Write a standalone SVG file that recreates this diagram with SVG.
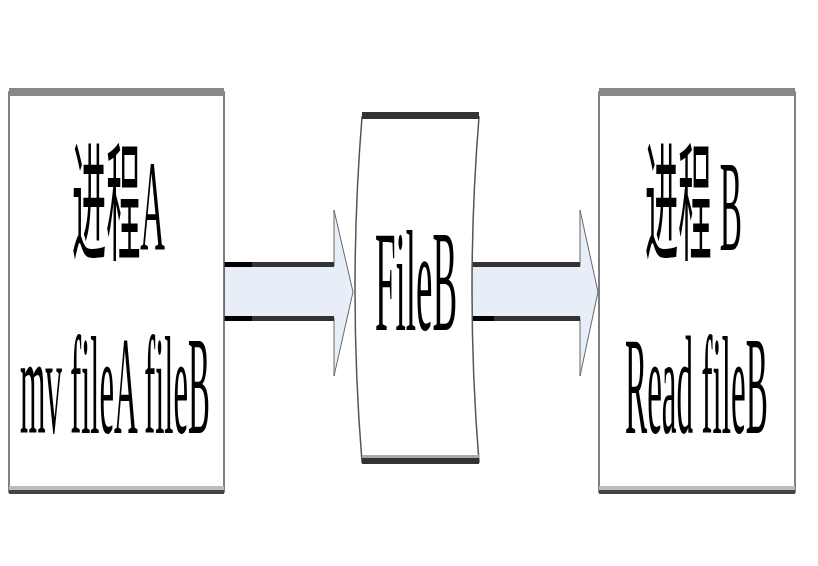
<svg xmlns="http://www.w3.org/2000/svg" width="818" height="566" viewBox="0 0 818 566">
<style>
.t{font-family:"Liberation Serif","Noto Sans CJK SC",serif;fill:#000}
.box{fill:#fff;stroke:#555;stroke-width:1.5}
.bar{fill:#888}
.arr{fill:#e8eef8;stroke:#666;stroke-width:1}
</style>
<rect width="818" height="566" fill="#fff"/>
<g id="connectors">
<g id="arrow1">
<path class="arr" d="M224,266 H334 V210 L353,292 L334,376 V318 H224 Z"/>
<rect x="224" y="262" width="110" height="5" fill="#333"/>
<rect x="224" y="316" width="110" height="5" fill="#333"/>
<rect x="224" y="262" width="28" height="5" fill="#000"/>
<rect x="224" y="316" width="28" height="5" fill="#000"/>
</g>
<g id="arrow2">
<path class="arr" d="M470,266 H580 V210 L598,292 L580,376 V318 H470 Z"/>
<rect x="470" y="262" width="110" height="5" fill="#333"/>
<rect x="470" y="316" width="110" height="5" fill="#333"/>
<rect x="470" y="316" width="24" height="5" fill="#000"/>
</g>
</g>
<g id="procA">
<rect class="box" x="9" y="92" width="215" height="400"/>
<rect class="bar" x="9" y="88" width="215" height="8"/>
<rect x="9" y="486" width="215" height="8" fill="#bbb"/>
<rect x="9" y="490" width="215" height="4" fill="#444"/>
<text class="t" font-size="130" transform="translate(72,250) scale(0.263,1)">进程A</text>
<text class="t" font-size="140" transform="translate(20,433) scale(0.235,1)">mv fileA fileB</text>
</g>
<g id="fileB">
<path class="box" d="M362,117 H479 Q465,290 479,462 H362 Q348,290 362,117 Z"/>
<rect x="362" y="112" width="117" height="7" fill="#333"/>
<rect x="362" y="457" width="117" height="7" fill="#333"/>
<rect x="362" y="455" width="117" height="3" fill="#aaa"/>
<text class="t" font-size="145" transform="translate(375,330) scale(0.255,1)">FileB</text>
</g>
<g id="procB">
<rect class="box" x="599" y="92" width="196" height="400"/>
<rect class="bar" x="599" y="88" width="196" height="8"/>
<rect x="599" y="486" width="196" height="8" fill="#bbb"/>
<rect x="599" y="490" width="196" height="4" fill="#444"/>
<text class="t" font-size="130" transform="translate(645,250) scale(0.256,1)">进程 B</text>
<text class="t" font-size="140" transform="translate(625,433) scale(0.237,1)">Read fileB</text>
</g>
</svg>
